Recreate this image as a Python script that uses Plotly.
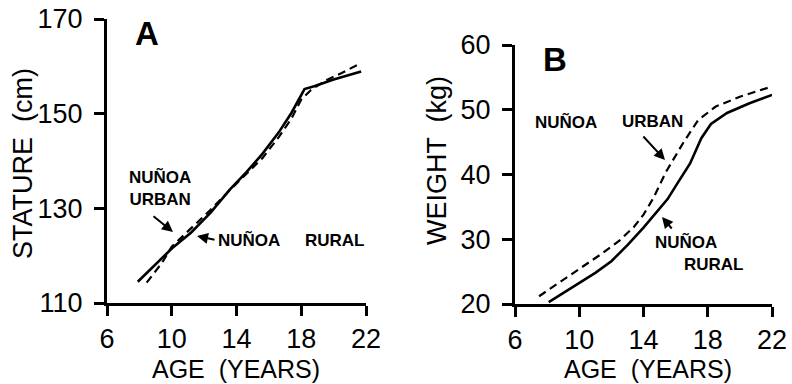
import plotly.graph_objects as go

W, H = 792, 384

# ---------------- data ----------------
age_ticks = [6, 10, 14, 18, 22]
stature_ticks = [110, 130, 150, 170]
weight_ticks = [20, 30, 40, 50, 60]

rural_A_age = [7.9, 9.0, 10.0, 11.2, 12.4, 13.6, 14.6, 15.6, 16.6, 17.4, 18.2, 18.8, 20.0, 21.7]
rural_A_stature = [114.5, 118.2, 121.5, 124.9, 129.1, 134.0, 137.6, 141.5, 146.0, 150.2, 155.2, 155.8, 157.2, 158.9]

urban_A_age = [8.45, 9.4, 10.0, 11.2, 12.4, 13.6, 14.6, 15.6, 16.6, 17.4, 18.0, 18.6, 19.5, 20.5, 21.7]
urban_A_stature = [114.3, 118.5, 121.9, 125.8, 129.7, 133.9, 137.3, 140.6, 145.0, 149.0, 153.0, 155.0, 157.0, 158.6, 160.7]

rural_B_age = [8.1, 9.8, 11.0, 12.0, 13.0, 14.0, 14.8, 15.5, 16.1, 16.9, 17.6, 18.2, 19.2, 20.6, 22.0]
rural_B_weight = [20.3, 22.9, 24.8, 26.6, 29.1, 31.8, 34.1, 36.2, 38.6, 41.7, 45.6, 47.8, 49.5, 51.0, 52.3]

urban_B_age = [7.5, 9.4, 11.3, 12.5, 13.4, 14.0, 14.6, 15.4, 16.5, 17.4, 18.5, 20.0, 22.0]
urban_B_weight = [21.2, 24.4, 27.6, 29.8, 31.9, 33.8, 36.3, 40.4, 45.0, 48.4, 50.5, 52.0, 53.6]

FONT = "Liberation Sans, Arial, sans-serif"


def px(x, y):
    return x / W, 1 - y / H


fig = go.Figure()

line_solid = dict(color="black", width=2.6)
line_dash = dict(color="black", width=2.2, dash="8px,5px")

fig.add_trace(go.Scatter(x=rural_A_age, y=rural_A_stature, mode="lines", line=line_solid,
                         xaxis="x", yaxis="y", showlegend=False))
fig.add_trace(go.Scatter(x=urban_A_age, y=urban_A_stature, mode="lines", line=line_dash,
                         xaxis="x", yaxis="y", showlegend=False))
fig.add_trace(go.Scatter(x=rural_B_age, y=rural_B_weight, mode="lines", line=line_solid,
                         xaxis="x2", yaxis="y2", showlegend=False))
fig.add_trace(go.Scatter(x=urban_B_age, y=urban_B_weight, mode="lines", line=line_dash,
                         xaxis="x2", yaxis="y2", showlegend=False))

axis_common = dict(showgrid=False, zeroline=False, showline=True, linecolor="black", linewidth=3,
                   ticks="outside", ticklen=10, tickwidth=3, tickcolor="black", automargin=False,
                   tickfont=dict(family=FONT, size=27, color="black"))

fig.update_layout(
    width=W, height=H,
    margin=dict(l=0, r=0, t=0, b=0),
    paper_bgcolor="white", plot_bgcolor="white",
    xaxis=dict(domain=[107 / W, 366 / W], range=[6, 22], tickvals=age_ticks, anchor="y", **axis_common),
    yaxis=dict(domain=[1 - 303 / H, 1 - 19 / H], range=[110, 170], tickvals=stature_ticks, anchor="x",
               ticklabelstandoff=6, **axis_common),
    xaxis2=dict(domain=[515 / W, 772 / W], range=[6, 22], tickvals=age_ticks, anchor="y2", **axis_common),
    yaxis2=dict(domain=[1 - 304 / H, 1 - 45 / H], range=[20, 60], tickvals=weight_ticks, anchor="x2",
                ticklabelstandoff=6, **axis_common),
)

ann = []


def text(x, y, s, size, bold=False, xanchor="center", angle=0):
    xx, yy = px(x, y)
    ann.append(dict(x=xx, y=yy, xref="paper", yref="paper", text=s, showarrow=False,
                    xanchor=xanchor, yanchor="middle", textangle=angle,
                    font=dict(family=FONT, size=size, color="black",
                              weight="bold" if bold else "normal")))


def arrow(tx, ty, sx, sy):
    xx, yy = px(tx, ty)
    ann.append(dict(x=xx, y=yy, xref="paper", yref="paper", text="", showarrow=True,
                    ax=sx - tx, ay=sy - ty, arrowhead=2, arrowsize=1.1, arrowwidth=2,
                    arrowcolor="black"))


# axis titles
text(236, 369, "AGE  (YEARS)", 25)
text(648, 369, "AGE  (YEARS)", 25)
text(23, 164, "STATURE  (cm)", 27, angle=-90)
text(437, 161, "WEIGHT  (kg)", 27, angle=-90)

# panel letters
text(147, 34, "A", 33, bold=True)
text(555, 59, "B", 33, bold=True)

# panel A labels
text(127, 188, "NUÑOA<br>URBAN", 17, bold=True, xanchor="left")
text(216, 240, "NUÑOA", 17, bold=True, xanchor="left")
text(303, 240, "RURAL", 17, bold=True, xanchor="left")
arrow(173, 232, 152, 215)
arrow(197, 236, 216, 240)

# panel B labels
text(533, 122, "NUÑOA", 17, bold=True, xanchor="left")
text(620, 122, "URBAN", 17, bold=True, xanchor="left")
text(653, 242, "NUÑOA", 17, bold=True, xanchor="left")
text(682, 264, "RURAL", 17, bold=True, xanchor="left")
arrow(665, 160, 642, 135)
arrow(662, 217, 673, 230)

fig.update_layout(annotations=ann)

fig.write_html("out.html", config={"displayModeBar": False, "staticPlot": True},
               post_script="document.body.style.margin='0';document.body.style.overflow='hidden';")
